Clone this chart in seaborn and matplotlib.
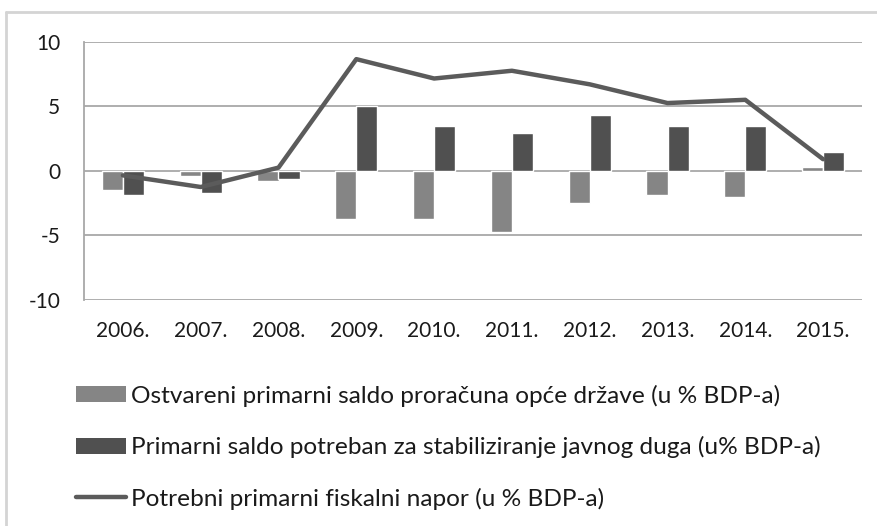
import numpy as np
import pandas as pd
import matplotlib
matplotlib.use("Agg")
import matplotlib.pyplot as plt
import seaborn as sns
from matplotlib.patches import Patch
from matplotlib.lines import Line2D

years = ["2006.", "2007.", "2008.", "2009.", "2010.", "2011.", "2012.", "2013.", "2014.", "2015."]
ostvareni = [-1.5, -0.4, -0.8, -3.7, -3.7, -4.7, -2.5, -1.85, -2.05, 0.33]
potreban = [-1.85, -1.75, -0.65, 5.0, 3.45, 2.9, 4.3, 3.45, 3.5, 1.45]
napor = [-0.35, -1.25, 0.25, 8.65, 7.15, 7.75, 6.7, 5.25, 5.5, 0.9]
yticks = [10, 5, 0, -5, -10]

lab_bar1 = "Ostvareni primarni saldo proračuna opće države (u % BDP-a)"
lab_bar2 = "Primarni saldo potreban za stabiliziranje javnog duga (u% BDP-a)"
lab_line = "Potrebni primarni fiskalni napor (u % BDP-a)"

c_light = "#858585"
c_dark = "#505050"
c_line = "#5b5b5b"
c_grid = "#a8a8a8"

sns.set_style("white")
plt.rcParams["font.family"] = ["Lato", "DejaVu Sans"]
plt.rcParams["axes.unicode_minus"] = False

df = pd.DataFrame({
    "year": years * 2,
    "value": ostvareni + potreban,
    "series": [lab_bar1] * len(years) + [lab_bar2] * len(years),
})

W, H = 878, 526
fig = plt.figure(figsize=(W / 100, H / 100), dpi=100)
ax = fig.add_axes([84 / W, 1 - 300 / H, (862 - 84) / W, (300 - 41.7) / H])

sns.barplot(data=df, x="year", y="value", hue="series", order=years,
            palette=[c_light, c_dark], width=0.54, gap=0, dodge=True,
            saturation=1, errorbar=None, ax=ax, legend=False, zorder=3)
sns.lineplot(x=np.arange(len(years)), y=napor, color=c_line, linewidth=3.2,
             ax=ax, zorder=4)

ax.set_xlim(-0.5, len(years) - 0.5)
ax.set_ylim(-10, 10)
ax.set_yticks(yticks)
ax.set_yticklabels([str(t) for t in yticks])
ax.grid(axis="y", color=c_grid, linewidth=1.3, zorder=0)
ax.set_axisbelow(True)
for s in ["top", "right", "bottom"]:
    ax.spines[s].set_visible(False)
ax.spines["left"].set_color(c_grid)
ax.spines["left"].set_linewidth(1.3)
ax.tick_params(axis="both", length=0, labelsize=15, colors="#1a1a1a")
ax.tick_params(axis="y", pad=17)
ax.tick_params(axis="x", pad=15)
ax.set_xlabel("")
ax.set_ylabel("")

# outer chart frame (left and top edges)
fig.add_artist(Line2D([6 / W, 6 / W], [0, 1 - 12 / H], transform=fig.transFigure,
                      color="#d4d4d4", linewidth=2))
fig.add_artist(Line2D([6 / W, 1], [1 - 12 / H, 1 - 12 / H], transform=fig.transFigure,
                      color="#d4d4d4", linewidth=2))

handles = [Patch(facecolor=c_light, edgecolor="none"),
           Patch(facecolor=c_dark, edgecolor="none"),
           Line2D([0], [0], color=c_line, linewidth=3.2)]
fig.legend(handles, [lab_bar1, lab_bar2, lab_line], loc="upper left",
           bbox_to_anchor=(66 / W, 1 - 375 / H), frameon=False, fontsize=17.6,
           handlelength=2.05, handleheight=0.65, handletextpad=0.22,
           labelspacing=1.2, borderaxespad=0, labelcolor="#1a1a1a")

fig.savefig("out.png", dpi=100)
